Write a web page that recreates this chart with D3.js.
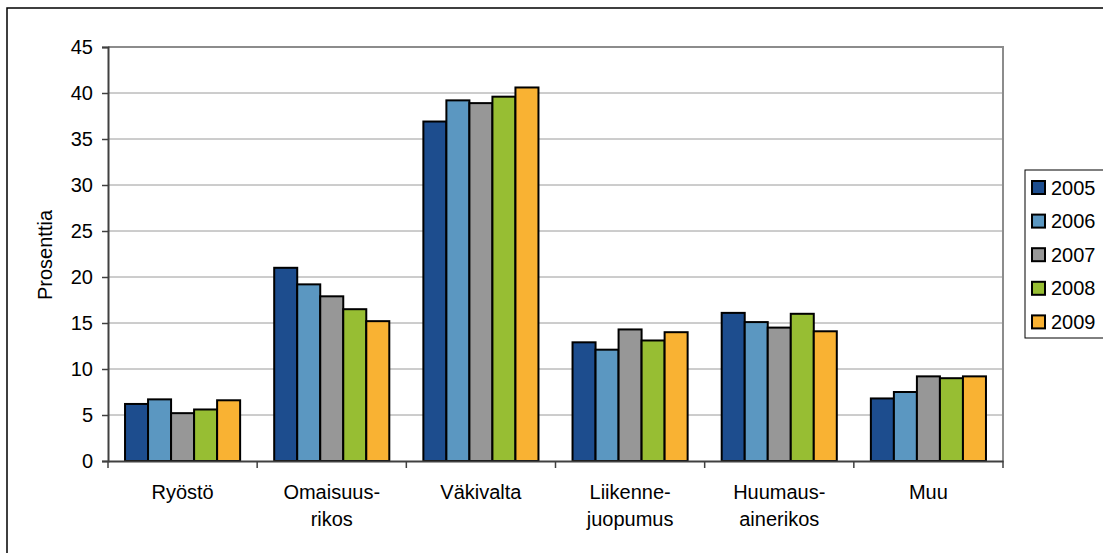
<!DOCTYPE html>
<html>
<head>
<meta charset="utf-8">
<script src="https://cdn.jsdelivr.net/npm/d3@7"></script>
<style>
  body { margin: 0; background: #fff; }
  svg text { font-family: "Liberation Sans", Arial, sans-serif; fill: #000; }
</style>
</head>
<body>
<div id="chart"></div>
<script>
// data
const categories = [
  ['Ryöstö'],
  ['Omaisuus-', 'rikos'],
  ['Väkivalta'],
  ['Liikenne-', 'juopumus'],
  ['Huumaus-', 'ainerikos'],
  ['Muu']
];
const years = ['2005', '2006', '2007', '2008', '2009'];
const values2005 = [6.2, 21.0, 36.9, 12.9, 16.1, 6.8];
const values2006 = [6.7, 19.2, 39.2, 12.1, 15.1, 7.5];
const values2007 = [5.2, 17.9, 38.9, 14.3, 14.5, 9.2];
const values2008 = [5.6, 16.5, 39.6, 13.1, 16.0, 9.0];
const values2009 = [6.6, 15.2, 40.6, 14.0, 14.1, 9.2];
const yTicks = [0, 5, 10, 15, 20, 25, 30, 35, 40, 45];
const yLabel = 'Prosenttia';

const series = [values2005, values2006, values2007, values2008, values2009];
const colors = ['#1d4d8e', '#5b97c1', '#979797', '#97be33', '#f9b233'];

const width = 1103, height = 553;
const plot = { left: 108, right: 1003, top: 47, bottom: 461 };

const svg = d3.select('#chart').append('svg')
  .attr('width', width)
  .attr('height', height);

// outer chart border
svg.append('rect')
  .attr('x', 7).attr('y', 8)
  .attr('width', 1200).attr('height', 700)
  .attr('fill', 'none')
  .attr('stroke', '#000')
  .attr('stroke-width', 1.5);

const catKeys = categories.map((d) => d.join(''));

const x0 = d3.scaleBand()
  .domain(catKeys)
  .range([plot.left, plot.right])
  .padding(0);

const x1 = d3.scaleBand()
  .domain(years)
  .range([0, x0.bandwidth()])
  .paddingInner(0)
  .paddingOuter(0.74);

const y = d3.scaleLinear()
  .domain([0, 45])
  .range([plot.bottom, plot.top]);

// grid lines
svg.append('g')
  .selectAll('line')
  .data(yTicks.filter((t) => t > 0 && t < 45))
  .join('line')
  .attr('x1', plot.left).attr('x2', plot.right)
  .attr('y1', (d) => y(d)).attr('y2', (d) => y(d))
  .attr('stroke', '#9a9a9a')
  .attr('stroke-width', 1);

// plot border (top and right)
svg.append('path')
  .attr('d', `M${plot.left},${y(45)}H${plot.right}V${plot.bottom}`)
  .attr('fill', 'none')
  .attr('stroke', '#8c8c8c')
  .attr('stroke-width', 2);

// bars
const groups = svg.append('g')
  .selectAll('g')
  .data(catKeys)
  .join('g')
  .attr('transform', (d) => `translate(${x0(d)},0)`);

groups.selectAll('rect')
  .data((d, i) => years.map((yr, j) => ({ year: yr, value: series[j][i], color: colors[j] })))
  .join('rect')
  .attr('x', (d) => x1(d.year))
  .attr('y', (d) => y(d.value))
  .attr('width', x1.bandwidth())
  .attr('height', (d) => y(0) - y(d.value))
  .attr('fill', (d) => d.color)
  .attr('stroke', '#000')
  .attr('stroke-width', 2);

// y axis
const yAxis = svg.append('g')
  .attr('transform', `translate(${plot.left},0)`)
  .call(d3.axisLeft(y).tickValues(yTicks).tickSize(6).tickPadding(9).tickFormat(d3.format('d')));
yAxis.select('.domain').attr('stroke', '#404040').attr('stroke-width', 2);
yAxis.selectAll('.tick line').attr('stroke', '#404040').attr('stroke-width', 1.5);
yAxis.selectAll('.tick text')
  .attr('font-size', 20)
  .attr('font-family', '"Liberation Sans", Arial, sans-serif');

// x axis
const xAxis = svg.append('g')
  .attr('transform', `translate(0,${plot.bottom})`)
  .call(d3.axisBottom(x0).tickSize(0).tickFormat(''));
xAxis.select('.domain').attr('stroke', '#404040').attr('stroke-width', 2);
xAxis.selectAll('.tick').remove();

// category separators
svg.append('g')
  .selectAll('line')
  .data(d3.range(categories.length + 1))
  .join('line')
  .attr('x1', (i) => plot.left + i * x0.step())
  .attr('x2', (i) => plot.left + i * x0.step())
  .attr('y1', plot.bottom).attr('y2', plot.bottom + 7)
  .attr('stroke', '#404040')
  .attr('stroke-width', 1.5);

// category labels
const labels = svg.append('g')
  .selectAll('text')
  .data(categories)
  .join('text')
  .attr('text-anchor', 'middle')
  .attr('font-size', 20)
  .attr('transform', (d, i) => `translate(${x0(catKeys[i]) + x0.bandwidth() / 2},499)`);

labels.selectAll('tspan')
  .data((d) => d)
  .join('tspan')
  .attr('x', 0)
  .attr('y', (d, i) => i * 26.5)
  .text((d) => d);

// y axis title
svg.append('text')
  .attr('transform', 'translate(52,255) rotate(-90)')
  .attr('text-anchor', 'middle')
  .attr('font-size', 20)
  .text(yLabel);

// legend
const legend = svg.append('g').attr('transform', 'translate(1025,170)');
legend.append('rect')
  .attr('x', 0).attr('y', 0)
  .attr('width', 120).attr('height', 168)
  .attr('fill', '#fff')
  .attr('stroke', '#000')
  .attr('stroke-width', 1);

const item = legend.selectAll('g.item')
  .data(years)
  .join('g')
  .attr('class', 'item')
  .attr('transform', (d, i) => `translate(0,${17.5 + i * 33.6})`);

item.append('rect')
  .attr('x', 7).attr('y', -6.5)
  .attr('width', 13).attr('height', 13)
  .attr('fill', (d, i) => colors[i])
  .attr('stroke', '#000')
  .attr('stroke-width', 2);

item.append('text')
  .attr('x', 26)
  .attr('y', 7)
  .attr('font-size', 20)
  .text((d) => d);
</script>
</body>
</html>
